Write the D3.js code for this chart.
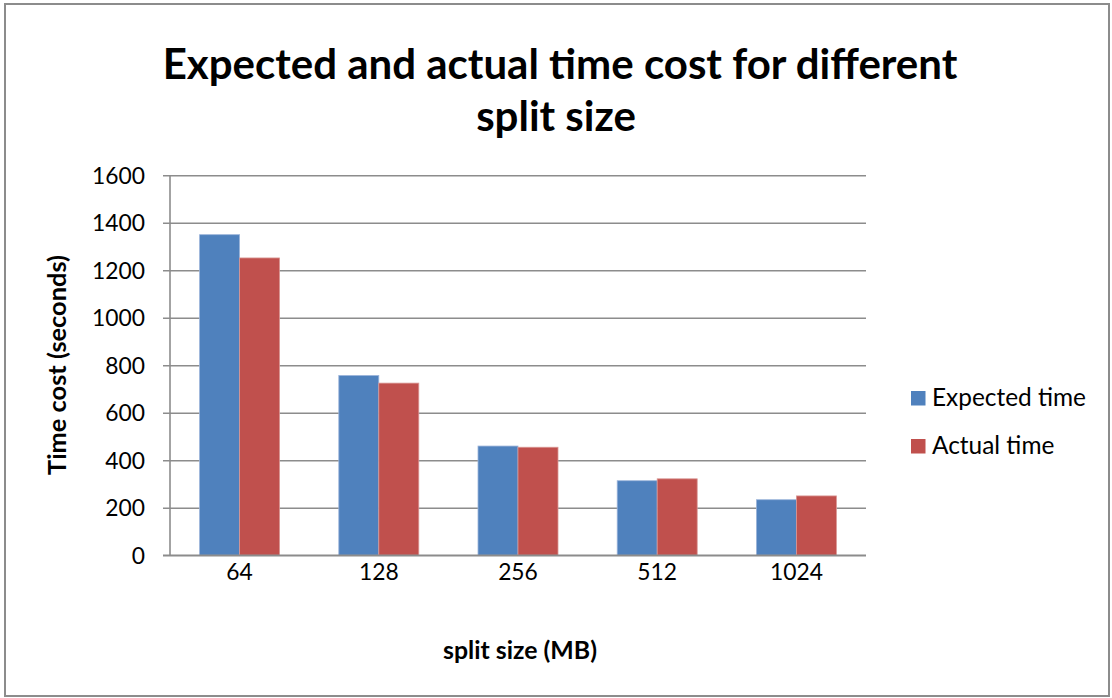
<!DOCTYPE html>
<html>
<head>
<meta charset="utf-8">
<script src="https://cdn.jsdelivr.net/npm/d3@7"></script>
<style>
  html, body { margin: 0; padding: 0; background: #fff; }
  svg { display: block; }
  text { font-family: Lato, "Open Sans", sans-serif; fill: #000; }
</style>
</head>
<body>
<svg id="chart" width="1112" height="698"></svg>
<script>
// Chart data
const categories = ["64", "128", "256", "512", "1024"];
const seriesNames = ["Expected time", "Actual time"];
const expectedTime = [1350, 757, 460, 314, 234];
const actualTime = [1252, 725, 455, 322, 250];
const yTicks = [0, 200, 400, 600, 800, 1000, 1200, 1400, 1600];
const titleLines = ["Expected and actual time cost for different", "split size"];

const colors = ["#4F81BD", "#C0504D"];
const strokes = ["#9BB4DA", "#D99794"];

const svg = d3.select("#chart");
const W = 1112, H = 698;

// Outer chart frame
svg.append("rect")
  .attr("x", 5).attr("y", 4)
  .attr("width", W - 8).attr("height", H - 6)
  .attr("fill", "#fff")
  .attr("stroke", "#8c8c8c").attr("stroke-width", 2);

const plot = { left: 170, right: 866, top: 175.3, bottom: 555.3 };

const x0 = d3.scaleBand().domain(categories)
  .range([plot.left, plot.right]).paddingInner(0).paddingOuter(0);
const y = d3.scaleLinear().domain([0, 1600]).range([plot.bottom, plot.top]);
const barW = 40;

// scale text to a target width in pixels
function fitWidth(sel, target) {
  sel.attr("font-size", 100);
  const w = sel.node().getComputedTextLength();
  sel.attr("font-size", 100 * target / w);
  return 100 * target / w;
}

// Gridlines
const yAxis = d3.axisLeft(y).tickValues(yTicks)
  .tickSize(-(plot.right - plot.left)).tickPadding(0);
const gY = svg.append("g").attr("transform", `translate(${plot.left},0)`).call(yAxis);
gY.select(".domain").remove();
gY.selectAll(".tick line")
  .attr("x1", -7)
  .attr("stroke", "#8c8c8c").attr("stroke-width", 1.6);
gY.selectAll(".tick text").remove();

// Vertical axis line
svg.append("line")
  .attr("x1", plot.left).attr("x2", plot.left)
  .attr("y1", plot.top).attr("y2", plot.bottom)
  .attr("stroke", "#8c8c8c").attr("stroke-width", 1.6);

// Tick labels
const probe = svg.append("text").text("1600");
const tickSize = fitWidth(probe, 53);
probe.remove();

svg.append("g").selectAll("text").data(yTicks).join("text")
  .attr("x", 145).attr("y", d => y(d))
  .attr("dy", "0.36em")
  .attr("text-anchor", "end")
  .attr("font-size", tickSize)
  .text(d => d);

// Bars
const groups = svg.append("g").selectAll("g").data(categories).join("g")
  .attr("transform", d => `translate(${x0(d)},0)`);

groups.selectAll("rect")
  .data((d, i) => [expectedTime[i], actualTime[i]].map((v, s) => ({ s, v })))
  .join("rect")
  .attr("x", d => x0.bandwidth() / 2 - barW + d.s * barW)
  .attr("width", barW)
  .attr("y", d => y(d.v))
  .attr("height", d => y(0) - y(d.v))
  .attr("fill", d => colors[d.s])
  .attr("stroke", d => strokes[d.s])
  .attr("stroke-width", 0.8);

// Baseline
svg.append("line")
  .attr("x1", plot.left - 7).attr("x2", plot.right)
  .attr("y1", y(0)).attr("y2", y(0))
  .attr("stroke", "#8c8c8c").attr("stroke-width", 1.6);

// Category labels
svg.append("g").selectAll("text").data(categories).join("text")
  .attr("x", d => x0(d) + x0.bandwidth() / 2)
  .attr("y", 580)
  .attr("text-anchor", "middle")
  .attr("font-size", tickSize)
  .text(d => d);

// Title (two lines)
const tProbe = svg.append("text").attr("font-weight", "bold").text(titleLines[0]);
const titleSize = Math.min(fitWidth(tProbe, 846), 42);
tProbe.remove();
const title = svg.append("g")
  .attr("text-anchor", "middle").attr("font-weight", "bold")
  .attr("font-size", titleSize);
title.selectAll("text").data(titleLines).join("text")
  .attr("x", (d, i) => i === 0 ? 560 : 556)
  .attr("y", (d, i) => i === 0 ? 79 : 131)
  .text(d => d);

// Axis titles
const xt = svg.append("text")
  .attr("x", 520).attr("y", 659)
  .attr("text-anchor", "middle").attr("font-weight", "bold")
  .text("split size (MB)");
fitWidth(xt, 154);

const yt = svg.append("text")
  .attr("transform", "translate(66,365) rotate(-90)")
  .attr("text-anchor", "middle").attr("font-weight", "bold")
  .text("Time cost (seconds)");
fitWidth(yt, 220);

// Legend
const legend = svg.append("g").selectAll("g").data(seriesNames).join("g")
  .attr("transform", (d, i) => `translate(911,${391 + i * 48})`);
legend.append("rect")
  .attr("width", 14.5).attr("height", 14.5)
  .attr("fill", (d, i) => colors[i]);
const lt = legend.append("text")
  .attr("x", 21).attr("y", 15)
  .text(d => d);
const legSize = fitWidth(d3.select(lt.nodes()[0]), 154);
lt.attr("font-size", legSize);
</script>
</body>
</html>
